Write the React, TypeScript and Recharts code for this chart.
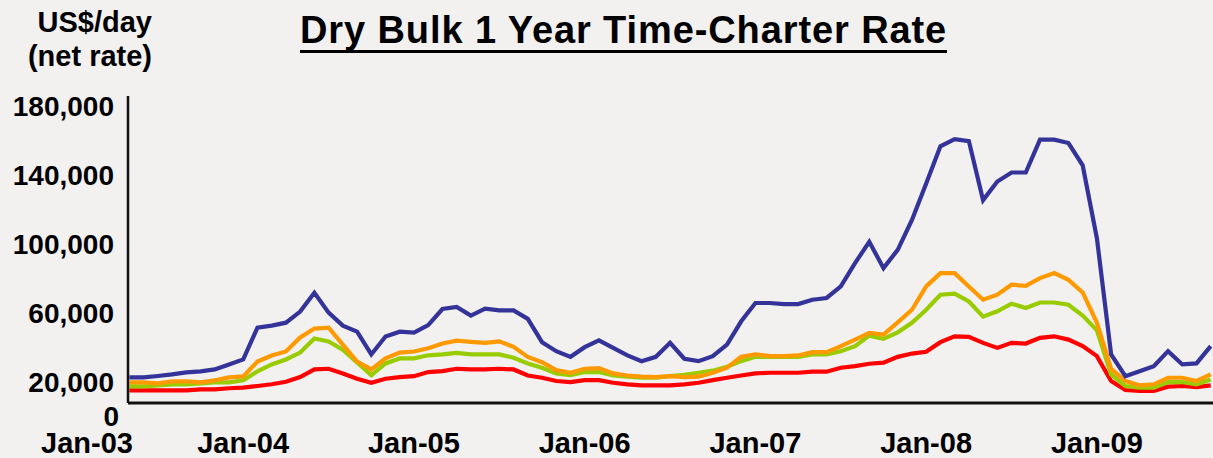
import { Line, LineChart, XAxis, YAxis } from 'recharts';

// monthly 1-year T/C rates, Jan-03 .. May-09 (US$/day)
const capesize = [
  22500, 22500, 23300, 24200, 25400, 26000, 27100, 30000, 32900, 51300,
  52500, 54200, 60600, 71500, 60000, 52500, 49000, 35800, 46200, 49000,
  48500, 52800, 62100, 63300, 58300, 62300, 61300, 61300, 56400, 42900,
  37700, 34400, 40000, 44000, 39600, 35200, 31900, 34400, 42500, 33300,
  31900, 34800, 41500, 55000, 65600, 65600, 65000, 65000, 67500, 68500,
  75200, 88700, 101100, 85800, 96400, 113700, 134800, 156400, 160500, 159400,
  125200, 136000, 141200, 141200, 160200, 160200, 158300, 145400, 103100, 35800,
  23200, 26100, 29000, 37700, 30000, 30600, 40600,
];
const panamax = [
  19600, 19600, 19000, 20200, 20200, 19600, 20800, 22500, 23100, 31700,
  35200, 37500, 45600, 50800, 51300, 41500, 31700, 27100, 33500, 36900,
  37500, 39400, 42100, 43800, 43100, 42500, 43400, 40200, 34400, 31300,
  26700, 25200, 27500, 27900, 24800, 23600, 22900, 22700, 23200, 22700,
  22900, 25200, 28100, 34400, 35800, 34800, 34800, 35200, 37100, 37100,
  40600, 44400, 48300, 47300, 54400, 61700, 75200, 82900, 82900, 75200,
  67500, 70400, 76200, 75600, 80000, 82900, 79000, 71700, 54100, 27500,
  20400, 17900, 18500, 22300, 22300, 20400, 24200,
];
const supramax = [
  17300, 17300, 17900, 18500, 18500, 19000, 19600, 19600, 20800, 26000,
  30000, 32900, 36900, 45000, 43300, 38600, 31100, 23700, 30600, 33500,
  33500, 35300, 35800, 36700, 35800, 35800, 35800, 33900, 30600, 28100,
  24800, 23800, 25600, 25600, 23600, 22900, 22300, 22300, 23200, 24000,
  25200, 26400, 28700, 31900, 34400, 34400, 34400, 34400, 35800, 35800,
  37700, 40600, 46700, 44800, 48600, 54100, 61700, 70400, 71000, 66500,
  57700, 60800, 65200, 62700, 65900, 65900, 64600, 58300, 49800, 24200,
  17500, 16600, 16600, 19800, 19800, 18500, 21300,
];
const handysize = [
  15000, 15000, 15000, 15000, 15000, 15600, 15600, 16200, 16600, 17500,
  18500, 20000, 22700, 27100, 27500, 24800, 21700, 19400, 21700, 22700,
  23200, 25600, 26100, 27500, 27100, 27100, 27500, 27100, 23600, 22300,
  20400, 19800, 20900, 20900, 19400, 18500, 17900, 17900, 17900, 18500,
  19400, 20900, 22300, 23600, 24800, 25200, 25200, 25200, 25800, 25800,
  28100, 29000, 30400, 31000, 34400, 36300, 37300, 42900, 46300, 46000,
  42500, 39600, 42500, 42100, 45400, 46300, 44400, 40600, 34800, 20400,
  15200, 14600, 14600, 17100, 17500, 16900, 17900,
];

const xTicks = [0, 12, 24, 36, 48, 60, 72];
const xTickLabels = ['Jan-03', 'Jan-04', 'Jan-05', 'Jan-06', 'Jan-07', 'Jan-08', 'Jan-09'];
const yTicks = [20000, 60000, 100000, 140000, 180000];

const data = capesize.map((v, i) => ({
  m: i,
  capesize: v,
  panamax: panamax[i],
  supramax: supramax[i],
  handysize: handysize[i],
}));

const FONT = '"Liberation Sans", Arial, sans-serif';

function XTick({ x, y, payload }: any) {
  const label = xTickLabels[xTicks.indexOf(payload.value)];
  // labels sit left of the month they mark, first one kept off the edge
  const cx = Math.max(x - 57, 87);
  return (
    <text x={cx} y={y} dy={50} textAnchor="middle" fontFamily={FONT} fontWeight={700} fontSize={29} fill="#000">
      {label}
    </text>
  );
}

function YTick({ x, y, payload }: any) {
  return (
    <text x={x - 14} y={y} dy={10} textAnchor="end" fontFamily={FONT} fontWeight={700} fontSize={28} fill="#000">
      {payload.value.toLocaleString('en-US')}
    </text>
  );
}

export default function App() {
  return (
    <div
      style={{
        position: 'absolute',
        left: 0,
        top: 0,
        width: 1213,
        height: 458,
        overflow: 'hidden',
        background: '#f2f1ef',
        fontFamily: FONT,
        color: '#000',
      }}
    >
      <div
        style={{
          position: 'absolute',
          left: 300,
          top: 11,
          fontSize: 38,
          lineHeight: '38px',
          fontWeight: 700,
          letterSpacing: 0.9,
          whiteSpace: 'nowrap',
          borderBottom: '3px solid #000',
          paddingBottom: 1,
        }}
      >
        Dry Bulk 1 Year Time-Charter Rate
      </div>

      <div
        style={{
          position: 'absolute',
          left: 0,
          top: 5,
          width: 152,
          textAlign: 'right',
          fontSize: 29,
          lineHeight: '34px',
          fontWeight: 700,
        }}
      >
        US$/day
        <br />
        (net rate)
      </div>

      <div
        style={{
          position: 'absolute',
          left: 0,
          top: 403,
          width: 119,
          textAlign: 'right',
          fontSize: 28,
          lineHeight: '28px',
          fontWeight: 700,
        }}
      >
        0
      </div>

      <LineChart width={1215} height={458} data={data} margin={{ top: 96, right: 0, bottom: 0, left: 0 }}>
        <XAxis
          dataKey="m"
          type="number"
          domain={[-0.1, 76.3]}
          ticks={xTicks}
          tick={<XTick />}
          tickLine={false}
          tickSize={0}
          tickMargin={0}
          height={55}
          axisLine={{ stroke: '#111', strokeWidth: 3 }}
          interval={0}
        />
        <YAxis
          type="number"
          domain={[7660, 185530]}
          ticks={yTicks}
          tick={<YTick />}
          tickLine={false}
          tickSize={0}
          tickMargin={0}
          width={128}
          axisLine={{ stroke: '#111', strokeWidth: 2.5 }}
          allowDataOverflow
        />
        <Line dataKey="handysize" type="linear" stroke="#ff0000" strokeWidth={4.2} dot={false} isAnimationActive={false} />
        <Line dataKey="supramax" type="linear" stroke="#99cc00" strokeWidth={4.2} dot={false} isAnimationActive={false} />
        <Line dataKey="panamax" type="linear" stroke="#ff9900" strokeWidth={4.2} dot={false} isAnimationActive={false} />
        <Line dataKey="capesize" type="linear" stroke="#333399" strokeWidth={4.2} dot={false} isAnimationActive={false} />
      </LineChart>
    </div>
  );
}
